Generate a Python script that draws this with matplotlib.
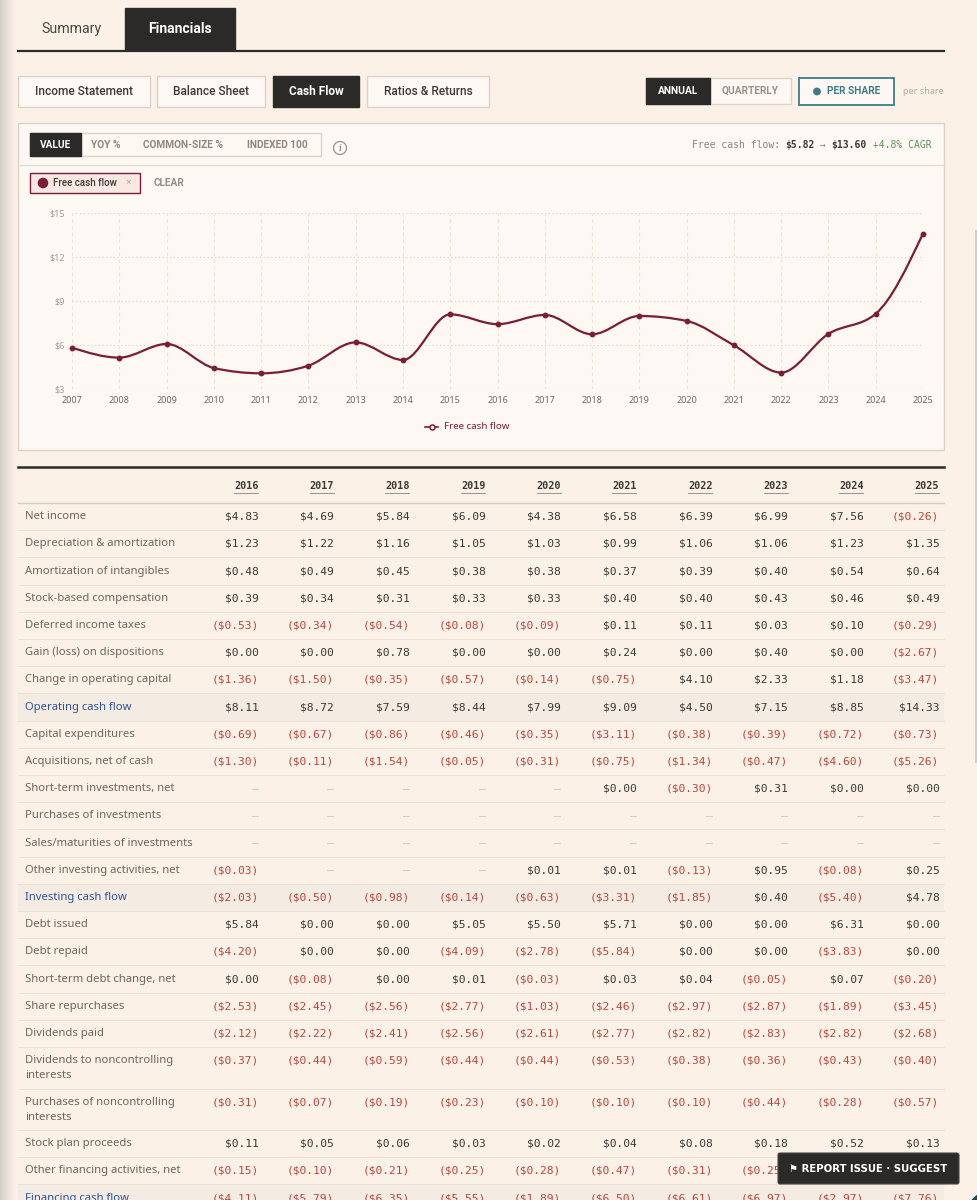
import numpy as np
import matplotlib
matplotlib.use("Agg")
import matplotlib.pyplot as plt
from matplotlib.patches import Rectangle, Circle, PathPatch, FancyBboxPatch
from matplotlib.path import Path
from matplotlib.colors import to_rgb

# ---- chart data (free cash flow per share) ----
fcf_years = list(range(2007, 2026))
fcf_values = [5.82, 5.14, 6.07, 4.43, 4.07, 4.59, 6.18, 4.98, 8.09, 7.42,
              8.05, 6.73, 7.98, 7.64, 5.98, 4.12, 6.76, 8.13, 13.60]
y_ticks = [3, 6, 9, 12, 15]

# ---- table data (per share, None = no value) ----
table_years = list(range(2016, 2026))
net_income = [4.83, 4.69, 5.84, 6.09, 4.38, 6.58, 6.39, 6.99, 7.56, -0.26]
dep_amort = [1.23, 1.22, 1.16, 1.05, 1.03, 0.99, 1.06, 1.06, 1.23, 1.35]
amort_intang = [0.48, 0.49, 0.45, 0.38, 0.38, 0.37, 0.39, 0.40, 0.54, 0.64]
stock_comp = [0.39, 0.34, 0.31, 0.33, 0.33, 0.40, 0.40, 0.43, 0.46, 0.49]
deferred_tax = [-0.53, -0.34, -0.54, -0.08, -0.09, 0.11, 0.11, 0.03, 0.10, -0.29]
gain_loss = [0.00, 0.00, 0.78, 0.00, 0.00, 0.24, 0.00, 0.40, 0.00, -2.67]
op_capital = [-1.36, -1.50, -0.35, -0.57, -0.14, -0.75, 4.10, 2.33, 1.18, -3.47]
op_cash_flow = [8.11, 8.72, 7.59, 8.44, 7.99, 9.09, 4.50, 7.15, 8.85, 14.33]
capex = [-0.69, -0.67, -0.86, -0.46, -0.35, -3.11, -0.38, -0.39, -0.72, -0.73]
acquisitions = [-1.30, -0.11, -1.54, -0.05, -0.31, -0.75, -1.34, -0.47, -4.60, -5.26]
st_investments = [None, None, None, None, None, 0.00, -0.30, 0.31, 0.00, 0.00]
purchases_inv = [None] * 10
sales_inv = [None] * 10
other_investing = [-0.03, None, None, None, 0.01, 0.01, -0.13, 0.95, -0.08, 0.25]
inv_cash_flow = [-2.03, -0.50, -0.98, -0.14, -0.63, -3.31, -1.85, 0.40, -5.40, 4.78]
debt_issued = [5.84, 0.00, 0.00, 5.05, 5.50, 5.71, 0.00, 0.00, 6.31, 0.00]
debt_repaid = [-4.20, 0.00, 0.00, -4.09, -2.78, -5.84, 0.00, 0.00, -3.83, 0.00]
st_debt = [0.00, -0.08, 0.00, 0.01, -0.03, 0.03, 0.04, -0.05, 0.07, -0.20]
buybacks = [-2.53, -2.45, -2.56, -2.77, -1.03, -2.46, -2.97, -2.87, -1.89, -3.45]
dividends = [-2.12, -2.22, -2.41, -2.56, -2.61, -2.77, -2.82, -2.83, -2.82, -2.68]
div_nci = [-0.37, -0.44, -0.59, -0.44, -0.44, -0.53, -0.38, -0.36, -0.43, -0.40]
purch_nci = [-0.31, -0.07, -0.19, -0.23, -0.10, -0.10, -0.10, -0.44, -0.28, -0.57]
stock_plan = [0.11, 0.05, 0.06, 0.03, 0.02, 0.04, 0.08, 0.18, 0.52, 0.13]
other_fin = [-0.15, -0.10, -0.21, -0.25, -0.28, -0.47, -0.31, -0.25, -0.62, -0.59]
fin_cash_flow = [-4.11, -5.79, -6.35, -5.55, -1.89, -6.50, -6.61, -6.97, -2.97, -7.76]

rows = [
    ("Net income", net_income, False),
    ("Depreciation & amortization", dep_amort, False),
    ("Amortization of intangibles", amort_intang, False),
    ("Stock-based compensation", stock_comp, False),
    ("Deferred income taxes", deferred_tax, False),
    ("Gain (loss) on dispositions", gain_loss, False),
    ("Change in operating capital", op_capital, False),
    ("Operating cash flow", op_cash_flow, True),
    ("Capital expenditures", capex, False),
    ("Acquisitions, net of cash", acquisitions, False),
    ("Short-term investments, net", st_investments, False),
    ("Purchases of investments", purchases_inv, False),
    ("Sales/maturities of investments", sales_inv, False),
    ("Other investing activities, net", other_investing, False),
    ("Investing cash flow", inv_cash_flow, True),
    ("Debt issued", debt_issued, False),
    ("Debt repaid", debt_repaid, False),
    ("Short-term debt change, net", st_debt, False),
    ("Share repurchases", buybacks, False),
    ("Dividends paid", dividends, False),
    ("Dividends to noncontrolling\ninterests", div_nci, False),
    ("Purchases of noncontrolling\ninterests", purch_nci, False),
    ("Stock plan proceeds", stock_plan, False),
    ("Other financing activities, net", other_fin, False),
    ("Financing cash flow", fin_cash_flow, True),
]

# ---- colours / fonts ----
page_bg = "#fcf1e7"
panel_bg = "#fdf8f3"
dark = "#2b2a28"
border = "#ddd2c7"
label_col = "#6d655e"
val_col = "#3b3936"
neg_col = "#b8473d"
dash_col = "#cdc4bb"
blue = "#2f5597"
maroon = "#7b1e34"
teal = "#3e7c85"
SANS = ["Noto Sans", "DejaVu Sans"]
UI = ["Roboto", "DejaVu Sans"]
MONO = ["DejaVu Sans Mono"]

fig = plt.figure(figsize=(9.77, 12), dpi=100, facecolor=page_bg)
ui = fig.add_axes([0, 0, 1, 1])
ui.set_xlim(0, 977)
ui.set_ylim(1200, 0)
ui.axis("off")

# left edge shadow
c0, c1 = np.array(to_rgb("#d3cdc6")), np.array(to_rgb(page_bg))
t = np.linspace(0, 1, 40) ** 0.8
grad = (c0[None, :] * (1 - t[:, None]) + c1[None, :] * t[:, None])[None, :, :]
ui.imshow(grad, extent=[0, 16, 1200, 0], aspect="auto", zorder=0)
# scrollbar thumb on the right
ui.add_patch(Rectangle((974.5, 230), 2.5, 533, fc="#d6cdc4", ec="none", zorder=0))


def box(x0, x1, y0, y1, fc, ec=border, lw=1.0, z=1):
    ui.add_patch(Rectangle((x0, y0), x1 - x0, y1 - y0, fc=fc, ec=ec, lw=lw, zorder=z))


# ---- top tabs ----
box(125, 235, 8, 50, dark, ec=dark)
ui.text(71, 29, "Summary", ha="center", va="center", fontsize=10.2, color="#4a4642", family=UI)
ui.text(180, 29, "Financials", ha="center", va="center", fontsize=10, color="white",
        family=UI, fontweight="bold")
ui.plot([18, 944], [50.5, 50.5], color=dark, lw=1.6, zorder=2)

# ---- statement buttons ----
buttons = [("Income Statement", 18, 150), ("Balance Sheet", 157, 265),
           ("Cash Flow", 273, 359), ("Ratios & Returns", 367, 489)]
for name, x0, x1 in buttons:
    active = name == "Cash Flow"
    box(x0, x1, 76, 107, dark if active else panel_bg, ec=dark if active else border)
    ui.text((x0 + x1) / 2, 91.5, name, ha="center", va="center", fontsize=8.6,
            color="white" if active else "#3b3936", family=UI,
            fontweight="bold" if active else "medium")

box(646, 791, 78, 104, panel_bg)
box(646, 710, 78, 104, dark, ec=dark)
ui.text(678, 91, "ANNUAL", ha="center", va="center", fontsize=7.4, color="white",
        family=UI, fontweight="bold")
ui.text(750, 91, "QUARTERLY", ha="center", va="center", fontsize=7.3, color="#9a928a",
        family=UI, fontweight="bold")
box(799, 894, 78, 105, panel_bg, ec=teal, lw=1.3)
ui.add_patch(Circle((817, 91.5), 3.2, color=teal, zorder=3))
ui.text(827, 91.5, "PER SHARE", ha="left", va="center", fontsize=7.3, color=teal,
        family=UI, fontweight="bold")
ui.text(903, 91.5, "per share", ha="left", va="center", fontsize=6.5, color="#b3aba3", family=SANS)

# ---- chart panel ----
box(18, 944, 123, 450, panel_bg, ec=border, z=0.5)
ui.plot([18, 944], [165, 165], color="#e6ddd4", lw=1, zorder=1)

box(30, 321, 133, 156, panel_bg)
box(30, 81, 133, 156, dark, ec=dark)
modes = [("VALUE", 55.5), ("YOY %", 106), ("COMMON-SIZE %", 183), ("INDEXED 100", 277)]
for i, (m, cx) in enumerate(modes):
    ui.text(cx, 144.5, m, ha="center", va="center", fontsize=7.3, family=UI, fontweight="bold",
            color="white" if i == 0 else "#8f8780")
ui.add_patch(Circle((340, 148), 6.5, fc="none", ec="#8f8780", lw=0.8, zorder=3))
ui.text(340, 148.5, "i", ha="center", va="center", fontsize=6.5, style="italic",
        color="#6d655e", family=["DejaVu Serif"])

# header summary line in mono, pieces laid out by character width
cw = 5.84
pieces = [("Free cash flow: ", "#8a847e", "normal"), ("$5.82", val_col, "bold"),
          (" \u2192 ", "#8a847e", "normal"), ("$13.60", val_col, "bold"),
          (" +4.8% CAGR", "#5f8f5c", "normal")]
total = sum(len(p[0]) for p in pieces)
xs = 931 - total * cw
for txt, col, wt in pieces:
    ui.text(xs, 144.5, txt, ha="left", va="center", fontsize=7, color=col,
            family=MONO, fontweight=wt)
    xs += len(txt) * cw

# series chip
box(30, 140, 173, 193, "#fbe8e3", ec=maroon, lw=1)
ui.add_patch(Circle((43, 183), 4.6, color=maroon, zorder=3))
ui.text(53, 183, "Free cash flow", ha="left", va="center", fontsize=7, color="#3b3936",
        family=UI, fontweight="medium")
ui.text(128, 183, "\u00d7", ha="center", va="center", fontsize=7, color="#a59d95", family=SANS)
ui.text(154, 183, "CLEAR", ha="left", va="center", fontsize=7.3, color="#958d86",
        family=UI, fontweight="bold")

# ---- line chart ----
ax = fig.add_axes([72 / 977, 1 - 389 / 1200, (923 - 72) / 977, (389 - 213) / 1200])
ax.set_xlim(fcf_years[0], fcf_years[-1])
ax.set_ylim(y_ticks[0], y_ticks[-1])
ax.patch.set_alpha(0)
for s in ax.spines.values():
    s.set_visible(False)
for yv in y_ticks:
    ax.axhline(yv, color="#e2d6cb", lw=0.9, ls=(0, (1, 2)), zorder=0)
for xv in fcf_years:
    ax.axvline(xv, color="#ede3d9", lw=0.8, ls=(0, (3, 3)), zorder=0)
ax.set_yticks(y_ticks)
ax.set_yticklabels([f"${v}" for v in y_ticks])
ax.set_xticks(fcf_years)
ax.set_xticklabels([str(y) for y in fcf_years])
ax.tick_params(axis="y", length=0, pad=5, labelsize=6.5, labelcolor="#a59d95")
ax.tick_params(axis="x", length=0, pad=5, labelsize=6.5, labelcolor="#6f6862")
for lab in ax.get_xticklabels() + ax.get_yticklabels():
    lab.set_family(SANS)

# monotone cubic (d3 curveMonotoneX style) as bezier path
x = np.array(fcf_years, dtype=float)
y = np.array(fcf_values, dtype=float)
h = np.diff(x)
s = np.diff(y) / h
m = np.zeros_like(y)
for i in range(1, len(y) - 1):
    p = (s[i - 1] * h[i] + s[i] * h[i - 1]) / (h[i - 1] + h[i])
    m[i] = (np.sign(s[i - 1]) + np.sign(s[i])) * min(abs(s[i - 1]), abs(s[i]), 0.5 * abs(p))
m[0] = (3 * s[0] - m[1]) / 2
m[-1] = (3 * s[-1] - m[-2]) / 2
verts = [(x[0], y[0])]
codes = [Path.MOVETO]
for i in range(len(x) - 1):
    d = h[i] / 3
    verts += [(x[i] + d, y[i] + m[i] * d), (x[i + 1] - d, y[i + 1] - m[i + 1] * d), (x[i + 1], y[i + 1])]
    codes += [Path.CURVE4] * 3
ax.add_patch(PathPatch(Path(verts, codes), fc="none", ec=maroon, lw=1.6, clip_on=False, zorder=3))
ax.plot(fcf_years, fcf_values, "o", ms=3.2, color=maroon, clip_on=False, zorder=4)

# legend
ui.plot([425, 438], [426.5, 426.5], color=maroon, lw=1.2, zorder=3)
ui.plot([431.5], [426.5], "o", ms=3.6, mfc=panel_bg, mec=maroon, mew=1.1, zorder=4)
ui.text(444, 426.5, "Free cash flow", ha="left", va="center", fontsize=7, color=maroon, family=SANS)

# ---- table ----
col_right = [258.5 + 75.65 * i for i in range(len(table_years))]
ui.plot([18, 944], [467, 467], color=dark, lw=1.8, zorder=2)
for r, yr in zip(col_right, table_years):
    ui.text(r, 486, str(yr), ha="right", va="center", fontsize=7.3, color=val_col,
            family=MONO, fontweight="bold")
    ui.plot([r - 24.5, r - 0.5], [492.5, 492.5], color="#8a847e", lw=0.6)
ui.plot([18, 944], [503, 503], color="#d9cdc1", lw=1, zorder=2)


def fmt(v):
    if v is None:
        return "\u2013", dash_col
    if v < 0:
        return f"(${-v:.2f})", neg_col
    return f"${v:.2f}", val_col


top = 503.0
for label, vals, total_row in rows:
    rh = 41.5 if "\n" in label else 27.2
    if total_row:
        box(18, 944, top, top + rh, "#f4ebe3", ec="none", z=0.8)
    yc = top + 13.6
    if "\n" in label:
        first, second = label.split("\n")
        ui.text(25, yc, first, ha="left", va="center", fontsize=8.1, color=label_col, family=SANS)
        ui.text(25, yc + 15, second, ha="left", va="center", fontsize=8.1, color=label_col, family=SANS)
    else:
        ui.text(25, yc, label, ha="left", va="center", fontsize=8.1,
                color=blue if total_row else label_col, family=SANS,
                fontweight="bold" if total_row else "normal")
    for r, v in zip(col_right, vals):
        txt, col = fmt(v)
        ui.text(r, yc, txt, ha="right", va="center", fontsize=8.1, color=col, family=MONO)
    top += rh
    ui.plot([18, 944], [top, top], color="#ebe1d7", lw=0.8, zorder=1)

# report issue overlay
ui.add_patch(FancyBboxPatch((778, 1153), 181, 31, boxstyle="round,pad=0,rounding_size=2",
                            fc=dark, ec="#4a4744", lw=0.8, zorder=6))
ui.text(868.5, 1168.5, "\u2691 REPORT ISSUE \u00b7 SUGGEST", ha="center", va="center", fontsize=7.3,
        color="white", fontweight="bold", family=["DejaVu Sans"], zorder=7)

# bottom-right corner of neighbouring dark panel
ui.add_patch(Circle((1000, 1225), 38, fc="#1f4a4c", ec="none", zorder=6))
ui.add_patch(Circle((1000, 1225), 31, fc=page_bg, ec="none", zorder=6.5))

fig.savefig("out.png", dpi=100, facecolor=page_bg)
